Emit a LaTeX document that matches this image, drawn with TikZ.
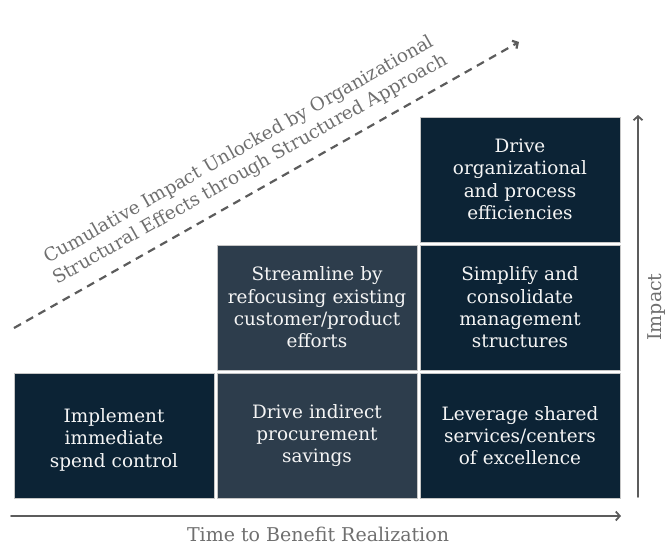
\documentclass[tikz,border=0pt]{standalone}
\usepackage{fontspec}
\setmainfont{DejaVu Serif}
\usetikzlibrary{arrows.meta, positioning}

\definecolor{navy}{HTML}{0C2335}
\definecolor{slate}{HTML}{2D3D4C}
\definecolor{axisgray}{HTML}{5C5C5C}
\definecolor{labelgray}{HTML}{6F6F6F}

\begin{document}
\begin{tikzpicture}[
            x = 1pt, y = -1pt,
            > = {Straight Barb[length=4pt, width=9pt]},
            node distance = 3pt,
            line cap = round
        ]

        \tikzstyle{block}=[
            draw = gray!45,
            line width = 0.6pt,
            minimum width = 200pt,
            minimum height = 125pt,
            inner sep = 0pt,
            outer sep = 0pt,
            text width = 190pt,
            align = center,
            text = white!92!gray,
            font = \fontsize{18.4}{22.3}\selectfont
        ]
        \tikzstyle{dark}=[block, fill = navy]
        \tikzstyle{light}=[block, fill = slate]
        \tikzset{axis/.style={->, draw = axisgray, line width = 1.8pt}}
        \tikzset{axis label/.style={text = labelgray, font = \fontsize{19}{22}\selectfont}}

        \useasboundingbox (0,0) rectangle (667,544);

        % bottom row
        \node[dark] (spend) at (114,435.5) {\mbox{}\\Implement\\immediate\\spend control};
        \node[light] (procure) [right=of spend] {Drive indirect\\procurement\\savings};
        \node[dark] (shared) [right=of procure] {Leverage shared\\services/centers\\of excellence};

        % upper rows
        \node[light] (stream) [above=of procure] {Streamline by\\refocusing existing\\customer/product\\efforts};
        \node[dark] (simplify) [above=of shared] {Simplify and\\consolidate\\management\\structures};
        \node[dark] (orgeff) [above=of simplify] {Drive\\organizational\\and process\\efficiencies};

        % axes
        \coordinate (tstart) at (11,516);
        \coordinate (tend) at (621,516);
        \coordinate (ibase) at (638,497);
        \coordinate (itop) at (638,115);
        \draw[axis] (tstart) -- (tend);
        \draw[axis] (ibase) -- (itop);
        \node[axis label, anchor = base] (time) at (318,541) {Time to Benefit Realization};
        \node[axis label, rotate=90] (impact) at (657,307) {Impact};

        % cumulative trend
        \coordinate (dstart) at (14,328);
        \coordinate (dend) at (519,42);
        \draw[->, axisgray, line width = 2.2pt, dash pattern = on 8pt off 6pt, line cap = butt] (dstart) -- (dend);
        \node[text = labelgray, align = center, rotate = 29.5,
              font = \fontsize{18.4}{22.5}\selectfont] (cumul) at (245,160)
            {Cumulative Impact Unlocked by Organizational\\Structural Effects through Structured Approach};

    \end{tikzpicture}
\end{document}
